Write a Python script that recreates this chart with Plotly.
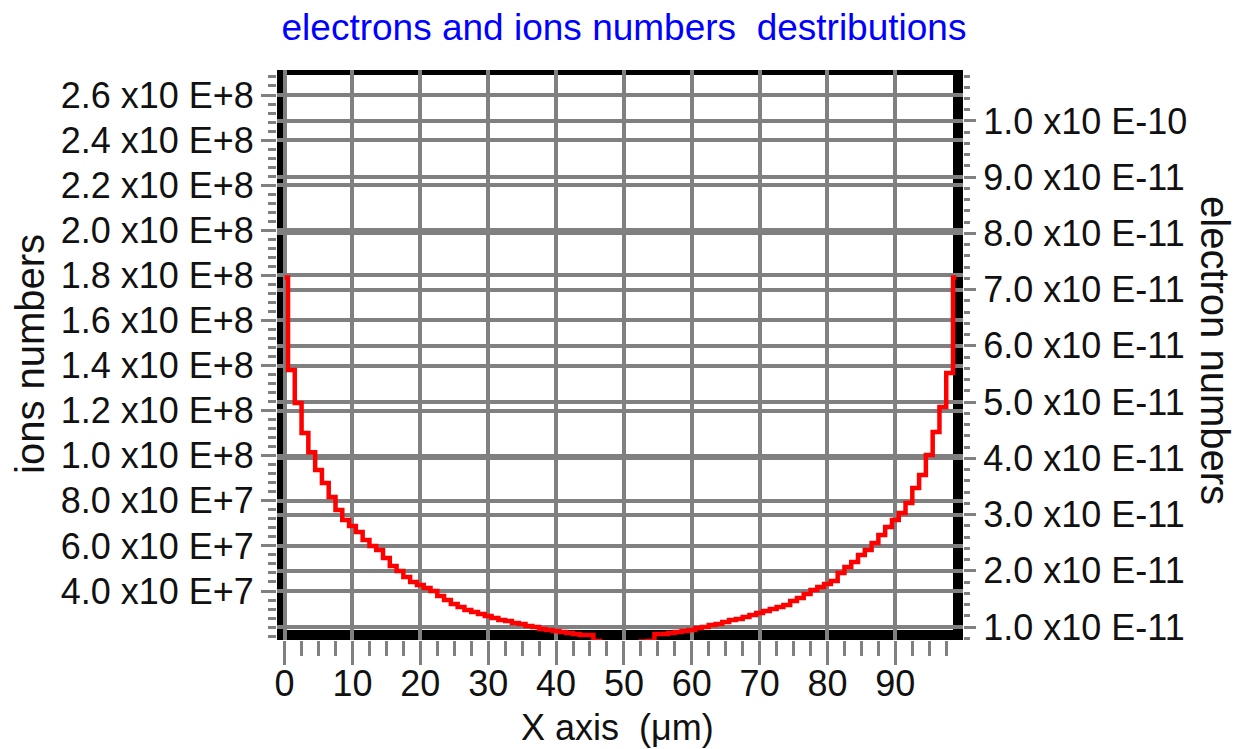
import plotly.graph_objects as go

# ---- data ----
x_um = list(range(100))
ions = [
    1.79e8, 1.380e8, 1.234e8, 1.101e8, 1.016e8, 9.37e7, 8.79e7, 8.17e7, 7.59e7, 7.15e7,
    6.88e7, 6.62e7, 6.26e7, 6.00e7, 5.82e7, 5.46e7, 5.11e7, 4.89e7, 4.62e7, 4.40e7,
    4.27e7, 4.13e7, 4.00e7, 3.78e7, 3.60e7, 3.42e7, 3.29e7, 3.16e7, 3.07e7, 2.98e7,
    2.89e7, 2.80e7, 2.71e7, 2.67e7, 2.58e7, 2.54e7, 2.45e7, 2.40e7, 2.31e7, 2.27e7,
    2.23e7, 2.18e7, 2.14e7, 2.09e7, 2.05e7, 2.05e7, 1.78e7, 1.72e7, 1.68e7, 1.66e7,
    1.66e7, 1.68e7, 1.72e7, 1.76e7, 1.78e7, 2.09e7, 2.09e7, 2.14e7, 2.18e7, 2.23e7,
    2.27e7, 2.36e7, 2.40e7, 2.49e7, 2.54e7, 2.63e7, 2.71e7, 2.76e7, 2.85e7, 2.94e7,
    3.02e7, 3.11e7, 3.20e7, 3.29e7, 3.38e7, 3.56e7, 3.69e7, 3.87e7, 4.04e7, 4.18e7,
    4.31e7, 4.44e7, 4.80e7, 5.06e7, 5.29e7, 5.60e7, 5.82e7, 6.13e7, 6.48e7, 6.84e7,
    7.15e7, 7.46e7, 7.90e7, 8.57e7, 9.14e7, 1.003e8, 1.105e8, 1.216e8, 1.367e8, 1.79e8,
]

x_ticks = [0, 10, 20, 30, 40, 50, 60, 70, 80, 90]
left_ticks = [4.0e7, 6.0e7, 8.0e7, 1.0e8, 1.2e8, 1.4e8, 1.6e8, 1.8e8, 2.0e8, 2.2e8, 2.4e8, 2.6e8]
left_labels = ["4.0 x10 E+7", "6.0 x10 E+7", "8.0 x10 E+7", "1.0 x10 E+8", "1.2 x10 E+8",
               "1.4 x10 E+8", "1.6 x10 E+8", "1.8 x10 E+8", "2.0 x10 E+8", "2.2 x10 E+8",
               "2.4 x10 E+8", "2.6 x10 E+8"]
right_ticks = [1e-11, 2e-11, 3e-11, 4e-11, 5e-11, 6e-11, 7e-11, 8e-11, 9e-11, 1e-10]
right_labels = ["1.0 x10 E-11", "2.0 x10 E-11", "3.0 x10 E-11", "4.0 x10 E-11", "5.0 x10 E-11",
                "6.0 x10 E-11", "7.0 x10 E-11", "8.0 x10 E-11", "9.0 x10 E-11", "1.0 x10 E-10"]

FONT = "Liberation Sans, Arial, sans-serif"
GRAY = "#808080"
FS = 36

# the page body has an 8px default margin; compensate so the picture lines up
OFF = 8
W, H = 1246 - OFF, 749 - OFF
L, R, T, B = 277 - OFF, 963 - OFF, 70 - OFF, 640 - OFF
pw, ph = R - L, B - T

def px(xp):
    return (xp - OFF - L) / pw

def py(yp):
    return (B - (yp - OFF)) / ph

fig = go.Figure()
fig.add_trace(go.Scatter(x=x_um, y=ions, mode="lines", line=dict(color="#ff0000", width=4.5, shape="hvh"),
                         showlegend=False, hoverinfo="skip"))
fig.add_trace(go.Scatter(x=[], y=[], yaxis="y2", showlegend=False))

shapes = []
for (x0, x1, y0, y1) in [(277, 284, 70, 640), (953, 963, 70, 640), (277, 963, 70, 75), (277, 963, 630, 640)]:
    shapes.append(dict(type="rect", xref="paper", yref="paper", x0=px(x0), x1=px(x1), y0=py(y1), y1=py(y0),
                       fillcolor="black", line=dict(width=0), layer="between"))

tickfont = dict(family=FONT, size=FS, color="#111111")

fig.update_layout(
    width=W, height=H,
    margin=dict(l=L, r=W - R, t=T, b=H - B, pad=0),
    paper_bgcolor="white", plot_bgcolor="white",
    title=dict(text="electrons and ions numbers\u00a0 destributions", x=(624 - OFF) / W, xref="container",
               xanchor="center", y=1 - (27 - OFF) / H, yref="container", yanchor="middle",
               font=dict(family=FONT, size=37, color="#0000ff")),
    xaxis=dict(range=[-1.12, 99.97], tickmode="array", tickvals=x_ticks, ticktext=[str(v) for v in x_ticks],
               showgrid=True, gridcolor=GRAY, gridwidth=4, zeroline=False, showline=False,
               ticks="outside", ticklen=24, tickwidth=3, tickcolor=GRAY, tickfont=tickfont,
               ticklabelstandoff=-12,
               minor=dict(dtick=2.5, tick0=0, ticks="outside", ticklen=15, tickwidth=3, tickcolor=GRAY,
                          showgrid=False)),
    yaxis=dict(range=[1.827e7, 2.7109e8], tickmode="array", tickvals=left_ticks, ticktext=left_labels,
               showgrid=True, gridcolor=GRAY, gridwidth=4, zeroline=False, showline=False,
               ticks="outside", ticklen=15, tickwidth=3, tickcolor=GRAY, tickfont=tickfont,
               minor=dict(dtick=4e6, tick0=0, ticks="outside", ticklen=8, tickwidth=3, tickcolor=GRAY,
                          showgrid=False)),
    yaxis2=dict(range=[7.687e-12, 1.0907e-10], overlaying="y", side="right", tickmode="array",
                tickvals=right_ticks, ticktext=right_labels,
                showgrid=True, gridcolor=GRAY, gridwidth=4, zeroline=False, showline=False,
                ticks="outside", ticklen=12, tickwidth=3, tickcolor=GRAY, tickfont=tickfont,
                minor=dict(dtick=2e-12, tick0=0, ticks="outside", ticklen=6, tickwidth=3, tickcolor=GRAY,
                           showgrid=False)),
    shapes=shapes,
    annotations=[
        dict(text="ions numbers", xref="paper", yref="paper", x=px(30), y=py(354), textangle=-90,
             showarrow=False, xanchor="center", yanchor="middle", font=dict(family=FONT, size=40, color="#111111")),
        dict(text="electron numbers", xref="paper", yref="paper", x=px(1215), y=py(350), textangle=90,
             showarrow=False, xanchor="center", yanchor="middle", font=dict(family=FONT, size=40, color="#111111")),
        dict(text="X axis\u00a0 (\u03bcm)", xref="paper", yref="paper", x=px(617), y=py(727),
             showarrow=False, xanchor="center", yanchor="middle", font=dict(family=FONT, size=36, color="#111111")),
    ],
)

fig.write_html("out.html")
